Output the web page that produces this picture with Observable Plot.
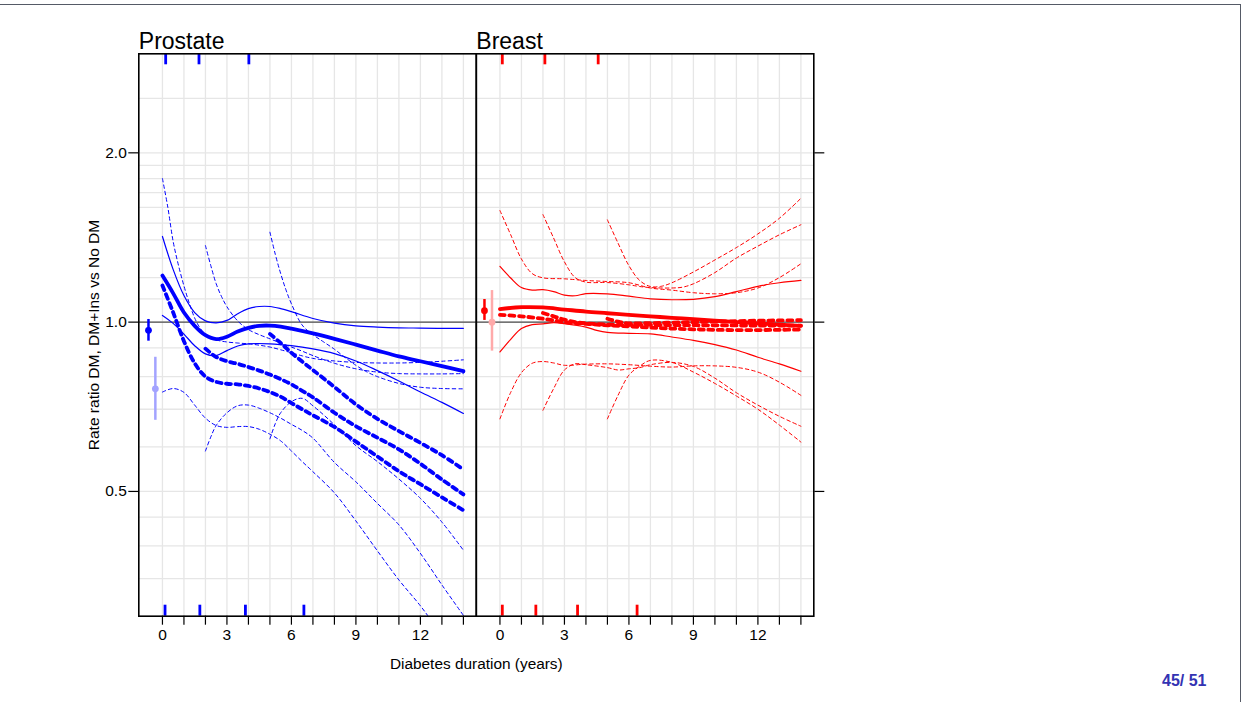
<!DOCTYPE html>
<html>
<head>
<meta charset="utf-8">
<script src="https://cdn.jsdelivr.net/npm/d3@7"></script>
<script src="https://cdn.jsdelivr.net/npm/@observablehq/plot@0.6"></script>
<style>
  html, body { margin: 0; padding: 0; background: #ffffff; }
  #page { position: relative; width: 1242px; height: 702px; overflow: hidden; background: #ffffff;
          font-family: "Liberation Sans", Arial, sans-serif; }
  #slideframe { position: absolute; left: -2px; top: 4px; width: 1243px; height: 720px;
                border-top: 1px solid #555a66; border-right: 1px solid #555a66; box-sizing: border-box; }
  #chart { position: absolute; left: 0; top: 0; }
  #chart g[aria-label$="tick label"] { font-size: 15.5px; }
  #pageno { position: absolute; left: 1162px; top: 673px; font: bold 16px "Liberation Sans", Arial, sans-serif;
            line-height: 16px; color: #3333b3; white-space: pre; }
</style>
</head>
<body>
<div id="page">
  <div id="slideframe"></div>
  <div id="chart"></div>
  <div id="pageno">45/ 51</div>
</div>
<script>
// ---------- categories, ticks, labels ----------
const panels = ["Prostate", "Breast"];
const xTicks = [0, 1, 2, 3, 4, 5, 6, 7, 8, 9, 10, 11, 12, 13, 14];
const xTickLabels = [0, 3, 6, 9, 12];
const yTicks = [0.5, 1.0, 2.0];
const yGrid = [0.35, 0.4, 0.45, 0.5, 0.6, 0.7, 0.8, 0.9, 1.0, 1.1, 1.2, 1.3, 1.4, 1.5, 1.6, 1.7, 1.8, 1.9, 2.0, 2.5];
const yLabel = "Rate ratio DM, DM+Ins vs No DM";
const xLabel = "Diabetes duration (years)";

// ---------- Prostate: DM (estimate and CI) ----------
const prostateDM = [[0,1.21],[0.5,1.125],[1,1.04],[1.5,0.985],[2,0.948],[2.5,0.933],[3,0.942],[3.5,0.962],[4,0.977],[4.5,0.985],[5,0.986],[5.5,0.982],[6,0.974],[7,0.955],[8,0.934],[9,0.912],[10,0.89],[11,0.869],[12,0.852],[13,0.835],[14,0.818]];
const prostateDMHi = [[0,1.42],[0.5,1.24],[1,1.115],[1.5,1.04],[2,1.005],[2.5,0.997],[3,1.007],[3.5,1.035],[4,1.057],[4.5,1.066],[5,1.066],[5.5,1.057],[6,1.044],[7,1.015],[8,0.996],[9,0.985],[10,0.98],[11,0.977],[12,0.976],[13,0.975],[14,0.975]];
const prostateDMLo = [[0,1.028],[0.5,0.995],[1,0.952],[1.5,0.908],[2,0.878],[2.5,0.872],[3,0.89],[3.5,0.907],[4,0.915],[5,0.915],[6,0.908],[7,0.896],[8,0.879],[9,0.853],[10,0.82],[11,0.786],[12,0.751],[13,0.72],[14,0.688]];
// ---------- Prostate: DM+Ins, insulin from 0, 2, 5 years ----------
const prostateIns0 = [[0,1.162],[0.5,1.04],[1,0.925],[1.5,0.845],[2,0.8],[2.5,0.783],[3,0.777],[3.5,0.775],[4,0.77],[4.5,0.762],[5,0.751],[5.5,0.737],[6,0.718],[6.5,0.7],[7,0.683],[8,0.651],[9,0.613],[10,0.577],[11,0.543],[12,0.515],[13,0.488],[14,0.463]];
const prostateIns0Hi = [[0,1.8],[0.25,1.6],[0.5,1.39],[0.75,1.26],[1,1.16],[1.25,1.08],[1.5,1.017],[1.75,0.976],[2,0.952],[2.5,0.93],[3,0.922],[3.5,0.918],[4,0.915],[4.5,0.91],[5,0.903],[5.5,0.893],[6,0.882],[6.5,0.871],[7,0.862],[8,0.853],[9,0.848],[10,0.846],[11,0.846],[12,0.848],[13,0.852],[14,0.857]];
const prostateIns0Lo = [[0,0.751],[0.5,0.762],[1,0.75],[1.5,0.712],[2,0.675],[2.5,0.655],[3,0.65],[3.5,0.652],[4,0.652],[4.5,0.645],[5,0.632],[5.5,0.615],[6,0.59],[6.5,0.565],[7,0.542],[8,0.497],[9,0.443],[10,0.392],[11,0.348],[12,0.313],[13,0.278],[14,0.25]];
const prostateIns2 = [[2,0.897],[2.5,0.867],[3,0.852],[3.5,0.843],[4,0.832],[4.5,0.82],[5,0.807],[5.5,0.792],[6,0.775],[6.5,0.755],[7,0.735],[8,0.69],[9,0.653],[10,0.623],[11,0.594],[12,0.56],[13,0.525],[14,0.494]];
const prostateIns2Hi = [[2,1.368],[2.25,1.26],[2.5,1.17],[2.75,1.11],[3,1.065],[3.5,1.005],[4,0.97],[4.5,0.95],[5,0.934],[5.5,0.918],[6,0.903],[6.5,0.888],[7,0.872],[8,0.845],[9,0.826],[10,0.815],[11,0.81],[12,0.809],[13,0.809],[14,0.81]];
const prostateIns2Lo = [[2,0.59],[2.25,0.625],[2.5,0.655],[3,0.69],[3.5,0.71],[4,0.712],[4.5,0.703],[5,0.69],[5.5,0.675],[6,0.658],[6.5,0.642],[7,0.622],[8,0.563],[9,0.52],[10,0.476],[11,0.436],[12,0.388],[13,0.341],[14,0.301]];
const prostateIns5 = [[5,0.953],[5.5,0.918],[6,0.882],[6.5,0.851],[7,0.822],[8,0.767],[9,0.714],[10,0.673],[11,0.64],[12,0.61],[13,0.58],[14,0.547]];
const prostateIns5Hi = [[5,1.445],[5.25,1.32],[5.5,1.22],[5.75,1.14],[6,1.078],[6.5,0.988],[7,0.95],[7.5,0.922],[8,0.895],[8.5,0.865],[9,0.838],[9.5,0.816],[10,0.8],[11,0.778],[12,0.766],[13,0.762],[14,0.761]];
const prostateIns5Lo = [[5,0.62],[5.25,0.66],[5.5,0.69],[6,0.722],[6.5,0.732],[7,0.71],[8,0.657],[9,0.603],[10,0.565],[11,0.526],[12,0.486],[13,0.441],[14,0.393]];

// ---------- Breast: DM (estimate and CI) ----------
const breastDM = [[0,1.055],[1,1.063],[2,1.062],[3,1.053],[4,1.044],[5,1.037],[6,1.03],[7,1.024],[8,1.018],[9,1.012],[10,1.006],[11,1.0],[12,0.995],[13,0.99],[14,0.985]];
const breastDMHi = [[0,1.256],[0.5,1.198],[1,1.152],[1.5,1.14],[2,1.142],[2.5,1.133],[3,1.117],[3.5,1.114],[4,1.124],[5,1.123],[6,1.112],[7,1.1],[8,1.096],[9,1.098],[10,1.11],[11,1.133],[12,1.158],[13,1.175],[14,1.186]];
const breastDMLo = [[0,0.885],[0.5,0.932],[1,0.974],[1.5,0.99],[2,0.993],[2.5,0.998],[3,0.994],[4,0.98],[4.5,0.967],[5,0.959],[6,0.955],[7,0.953],[8,0.941],[9,0.928],[10,0.912],[11,0.892],[12,0.866],[13,0.843],[14,0.818]];
// ---------- Breast: DM+Ins, insulin from 0, 2, 5 years ----------
const breastIns0 = [[0,1.03],[1,1.024],[2,1.014],[3,1.0],[4,0.993],[5,0.987],[6,0.983],[7,0.978],[8,0.974],[9,0.971],[10,0.969],[11,0.968],[12,0.968],[13,0.969],[14,0.97]];
const breastIns0Hi = [[0,1.579],[0.5,1.43],[1,1.295],[1.5,1.22],[2,1.199],[3,1.194],[4,1.186],[5,1.181],[6,1.175],[7,1.15],[8,1.14],[9,1.128],[10,1.123],[11,1.128],[12,1.15],[13,1.2],[14,1.27]];
const breastIns0Lo = [[0,0.673],[0.5,0.75],[1,0.813],[1.5,0.845],[2,0.851],[2.5,0.846],[3,0.838],[4,0.842],[5,0.843],[6,0.84],[7,0.835],[8,0.832],[9,0.836],[10,0.836],[11,0.831],[12,0.815],[13,0.782],[14,0.741]];
const breastIns2 = [[2,1.038],[2.5,1.024],[3,1.01],[3.5,1.0],[4,0.995],[5,0.99],[6,0.989],[8,0.988],[10,0.987],[12,0.986],[14,0.986]];
const breastIns2Hi = [[2,1.553],[2.5,1.41],[3,1.28],[3.5,1.2],[4,1.178],[5,1.176],[6,1.165],[6.5,1.157],[7,1.152],[8,1.15],[8.5,1.154],[9,1.17],[10,1.225],[11,1.3],[12,1.365],[13,1.43],[14,1.49]];
const breastIns2Lo = [[2,0.697],[2.5,0.762],[3,0.822],[3.5,0.843],[4,0.84],[5,0.83],[5.5,0.822],[6,0.826],[6.5,0.83],[7,0.84],[8,0.848],[9,0.834],[10,0.795],[11,0.749],[12,0.712],[13,0.68],[14,0.653]];
const breastIns5 = [[5,1.014],[5.5,1.002],[6,0.995],[7,0.996],[8,0.998],[9,1.0],[10,1.002],[11,1.004],[12,1.006],[13,1.007],[14,1.008]];
const breastIns5Hi = [[5,1.52],[5.5,1.38],[6,1.26],[6.5,1.186],[7,1.157],[7.5,1.158],[8,1.175],[9,1.228],[10,1.29],[11,1.357],[12,1.435],[13,1.53],[14,1.66]];
const breastIns5Lo = [[5,0.673],[5.5,0.742],[6,0.805],[6.5,0.835],[7,0.855],[8,0.848],[9,0.815],[10,0.778],[11,0.739],[12,0.7],[13,0.656],[14,0.612]];

// ---------- overall estimates (left of 0) ----------
const pointPanel = ["Prostate", "Prostate", "Breast", "Breast"];
const pointGroup = ["DM", "DM+Ins", "DM", "DM+Ins"];
const pointX = [-0.65, -0.33, -0.72, -0.37];
const pointEst = [0.967, 0.761, 1.048, 1.0];
const pointLo = [0.925, 0.669, 1.007, 0.888];
const pointHi = [1.011, 0.866, 1.097, 1.138];

// ---------- rugs ----------
const rugProstateTop = [0.15, 1.70, 4.02];
const rugProstateBottom = [0.12, 1.74, 3.86, 6.58];
const rugBreastTop = [0.11, 2.09, 4.57];
const rugBreastBottom = [0.11, 1.67, 3.61, 6.38];

// ---------- build tables ----------
const curveRows = [];
function addCurve(panel, kind, name, pts) {
  for (const [x, y] of pts) curveRows.push({panel, kind, curve: panel + "-" + name, x, y});
}
addCurve("Prostate", "est", "dm", prostateDM);
addCurve("Prostate", "ci", "dmhi", prostateDMHi);
addCurve("Prostate", "ci", "dmlo", prostateDMLo);
addCurve("Prostate", "insEst", "i0", prostateIns0);
addCurve("Prostate", "insCi", "i0hi", prostateIns0Hi);
addCurve("Prostate", "insCi", "i0lo", prostateIns0Lo);
addCurve("Prostate", "insEst", "i2", prostateIns2);
addCurve("Prostate", "insCi", "i2hi", prostateIns2Hi);
addCurve("Prostate", "insCi", "i2lo", prostateIns2Lo);
addCurve("Prostate", "insEst", "i5", prostateIns5);
addCurve("Prostate", "insCi", "i5hi", prostateIns5Hi);
addCurve("Prostate", "insCi", "i5lo", prostateIns5Lo);
addCurve("Breast", "est", "dm", breastDM);
addCurve("Breast", "ci", "dmhi", breastDMHi);
addCurve("Breast", "ci", "dmlo", breastDMLo);
addCurve("Breast", "insEst", "i0", breastIns0);
addCurve("Breast", "insCi", "i0hi", breastIns0Hi);
addCurve("Breast", "insCi", "i0lo", breastIns0Lo);
addCurve("Breast", "insEst", "i2", breastIns2);
addCurve("Breast", "insCi", "i2hi", breastIns2Hi);
addCurve("Breast", "insCi", "i2lo", breastIns2Lo);
addCurve("Breast", "insEst", "i5", breastIns5);
addCurve("Breast", "insCi", "i5hi", breastIns5Hi);
addCurve("Breast", "insCi", "i5lo", breastIns5Lo);

const points = pointX.map((x, i) => ({panel: pointPanel[i], group: pointGroup[i], x, y: pointEst[i], lo: pointLo[i], hi: pointHi[i]}));

const rugTop = [
  ...rugProstateTop.map(x => ({panel: "Prostate", x})),
  ...rugBreastTop.map(x => ({panel: "Breast", x}))
];
const rugBottom = [
  ...rugProstateBottom.map(x => ({panel: "Prostate", x})),
  ...rugBreastBottom.map(x => ({panel: "Breast", x}))
];

// ---------- styles ----------
const BLUE = "#0000ff", RED = "#ff0000", LIGHTBLUE = "#a3a3ff", PINK = "#ffaaaa";
const lineColor = d => d.panel === "Prostate" ? BLUE : RED;
const pointColor = d => d.panel === "Prostate" ? (d.group === "DM" ? BLUE : LIGHTBLUE) : (d.group === "DM" ? RED : PINK);

const W = 1242, H = 702;
const mL = 138.3, mR = W - 813.3, mT = 53.3, mB = H - 615.7;
const frameH = H - mT - mB;
const rugLen = 11;
const FONT = '"Liberation Sans", Arial, Helvetica, sans-serif';
const sel = k => curveRows.filter(d => d.kind === k);

const chart = Plot.plot({
  width: W, height: H,
  marginLeft: mL, marginRight: mR, marginTop: mT, marginBottom: mB,
  style: {fontFamily: FONT, fontSize: "15.5px", background: "transparent", color: "#000", overflow: "visible"},
  fx: {domain: panels, padding: 0, round: false, axis: null},
  x: {domain: [-1.1, 14.6]},
  y: {type: "log", domain: [0.3, 3.0]},
  color: {type: "identity"},
  marks: [
    Plot.gridX(xTicks, {stroke: "#e6e6e6", strokeOpacity: 1, strokeWidth: 1.3}),
    Plot.gridY(yGrid, {stroke: "#e6e6e6", strokeOpacity: 1, strokeWidth: 1.3}),
    Plot.ruleY([1], {stroke: "#4d4d4d", strokeWidth: 1.4}),
    Plot.line(sel("insCi"), {x: "x", y: "y", z: "curve", fx: "panel", stroke: lineColor, strokeWidth: 1, strokeDasharray: "3.5,3", curve: "catmull-rom", clip: true}),
    Plot.line(sel("ci"), {x: "x", y: "y", z: "curve", fx: "panel", stroke: lineColor, strokeWidth: 1.2, curve: "catmull-rom", clip: true}),
    Plot.line(sel("insEst"), {x: "x", y: "y", z: "curve", fx: "panel", stroke: lineColor, strokeWidth: 3.8, strokeDasharray: "5,4.5", curve: "catmull-rom", clip: true}),
    Plot.line(sel("est"), {x: "x", y: "y", z: "curve", fx: "panel", stroke: lineColor, strokeWidth: 3.8, curve: "catmull-rom", clip: true}),
    Plot.ruleX(points, {x: "x", y1: "lo", y2: "hi", fx: "panel", stroke: pointColor, strokeWidth: 2.5}),
    Plot.dot(points, {x: "x", y: "y", fx: "panel", fill: pointColor, r: 3.4}),
    Plot.ruleX(rugTop, {x: "x", fx: "panel", stroke: lineColor, strokeWidth: 2.8, insetBottom: frameH - rugLen}),
    Plot.ruleX(rugBottom, {x: "x", fx: "panel", stroke: lineColor, strokeWidth: 2.8, insetTop: frameH - rugLen}),
    Plot.frame({stroke: "#000", strokeWidth: 1.6}),
    Plot.axisY(yTicks, {anchor: "left", tickSize: 10, tickPadding: 2, tickFormat: d3.format(".1f"), label: null, fontSize: 15.5, strokeWidth: 1.2}),
    Plot.axisY(yTicks, {anchor: "right", tickSize: 10, tickFormat: () => "", label: null, strokeWidth: 1.2}),
    Plot.axisX(xTicks, {anchor: "bottom", tickSize: 9, tickPadding: 4, tickFormat: d => xTickLabels.includes(d) ? String(d) : "", label: null, fontSize: 15.5, strokeWidth: 1.2}),
    Plot.text(panels, {fx: d => d, text: d => d, frameAnchor: "top-left", textAnchor: "start", lineAnchor: "bottom", dy: -5, fontSize: 23}),
    Plot.text([yLabel], {fx: () => "Prostate", text: d => d, frameAnchor: "left", textAnchor: "middle", lineAnchor: "middle", rotate: -90, dx: -45, fontSize: 15.5}),
    Plot.text([xLabel], {fx: () => "Prostate", text: d => d, frameAnchor: "bottom-right", textAnchor: "middle", lineAnchor: "middle", dy: 48, fontSize: 15.4})
  ]
});
document.getElementById("chart").appendChild(chart);
</script>
</body>
</html>
